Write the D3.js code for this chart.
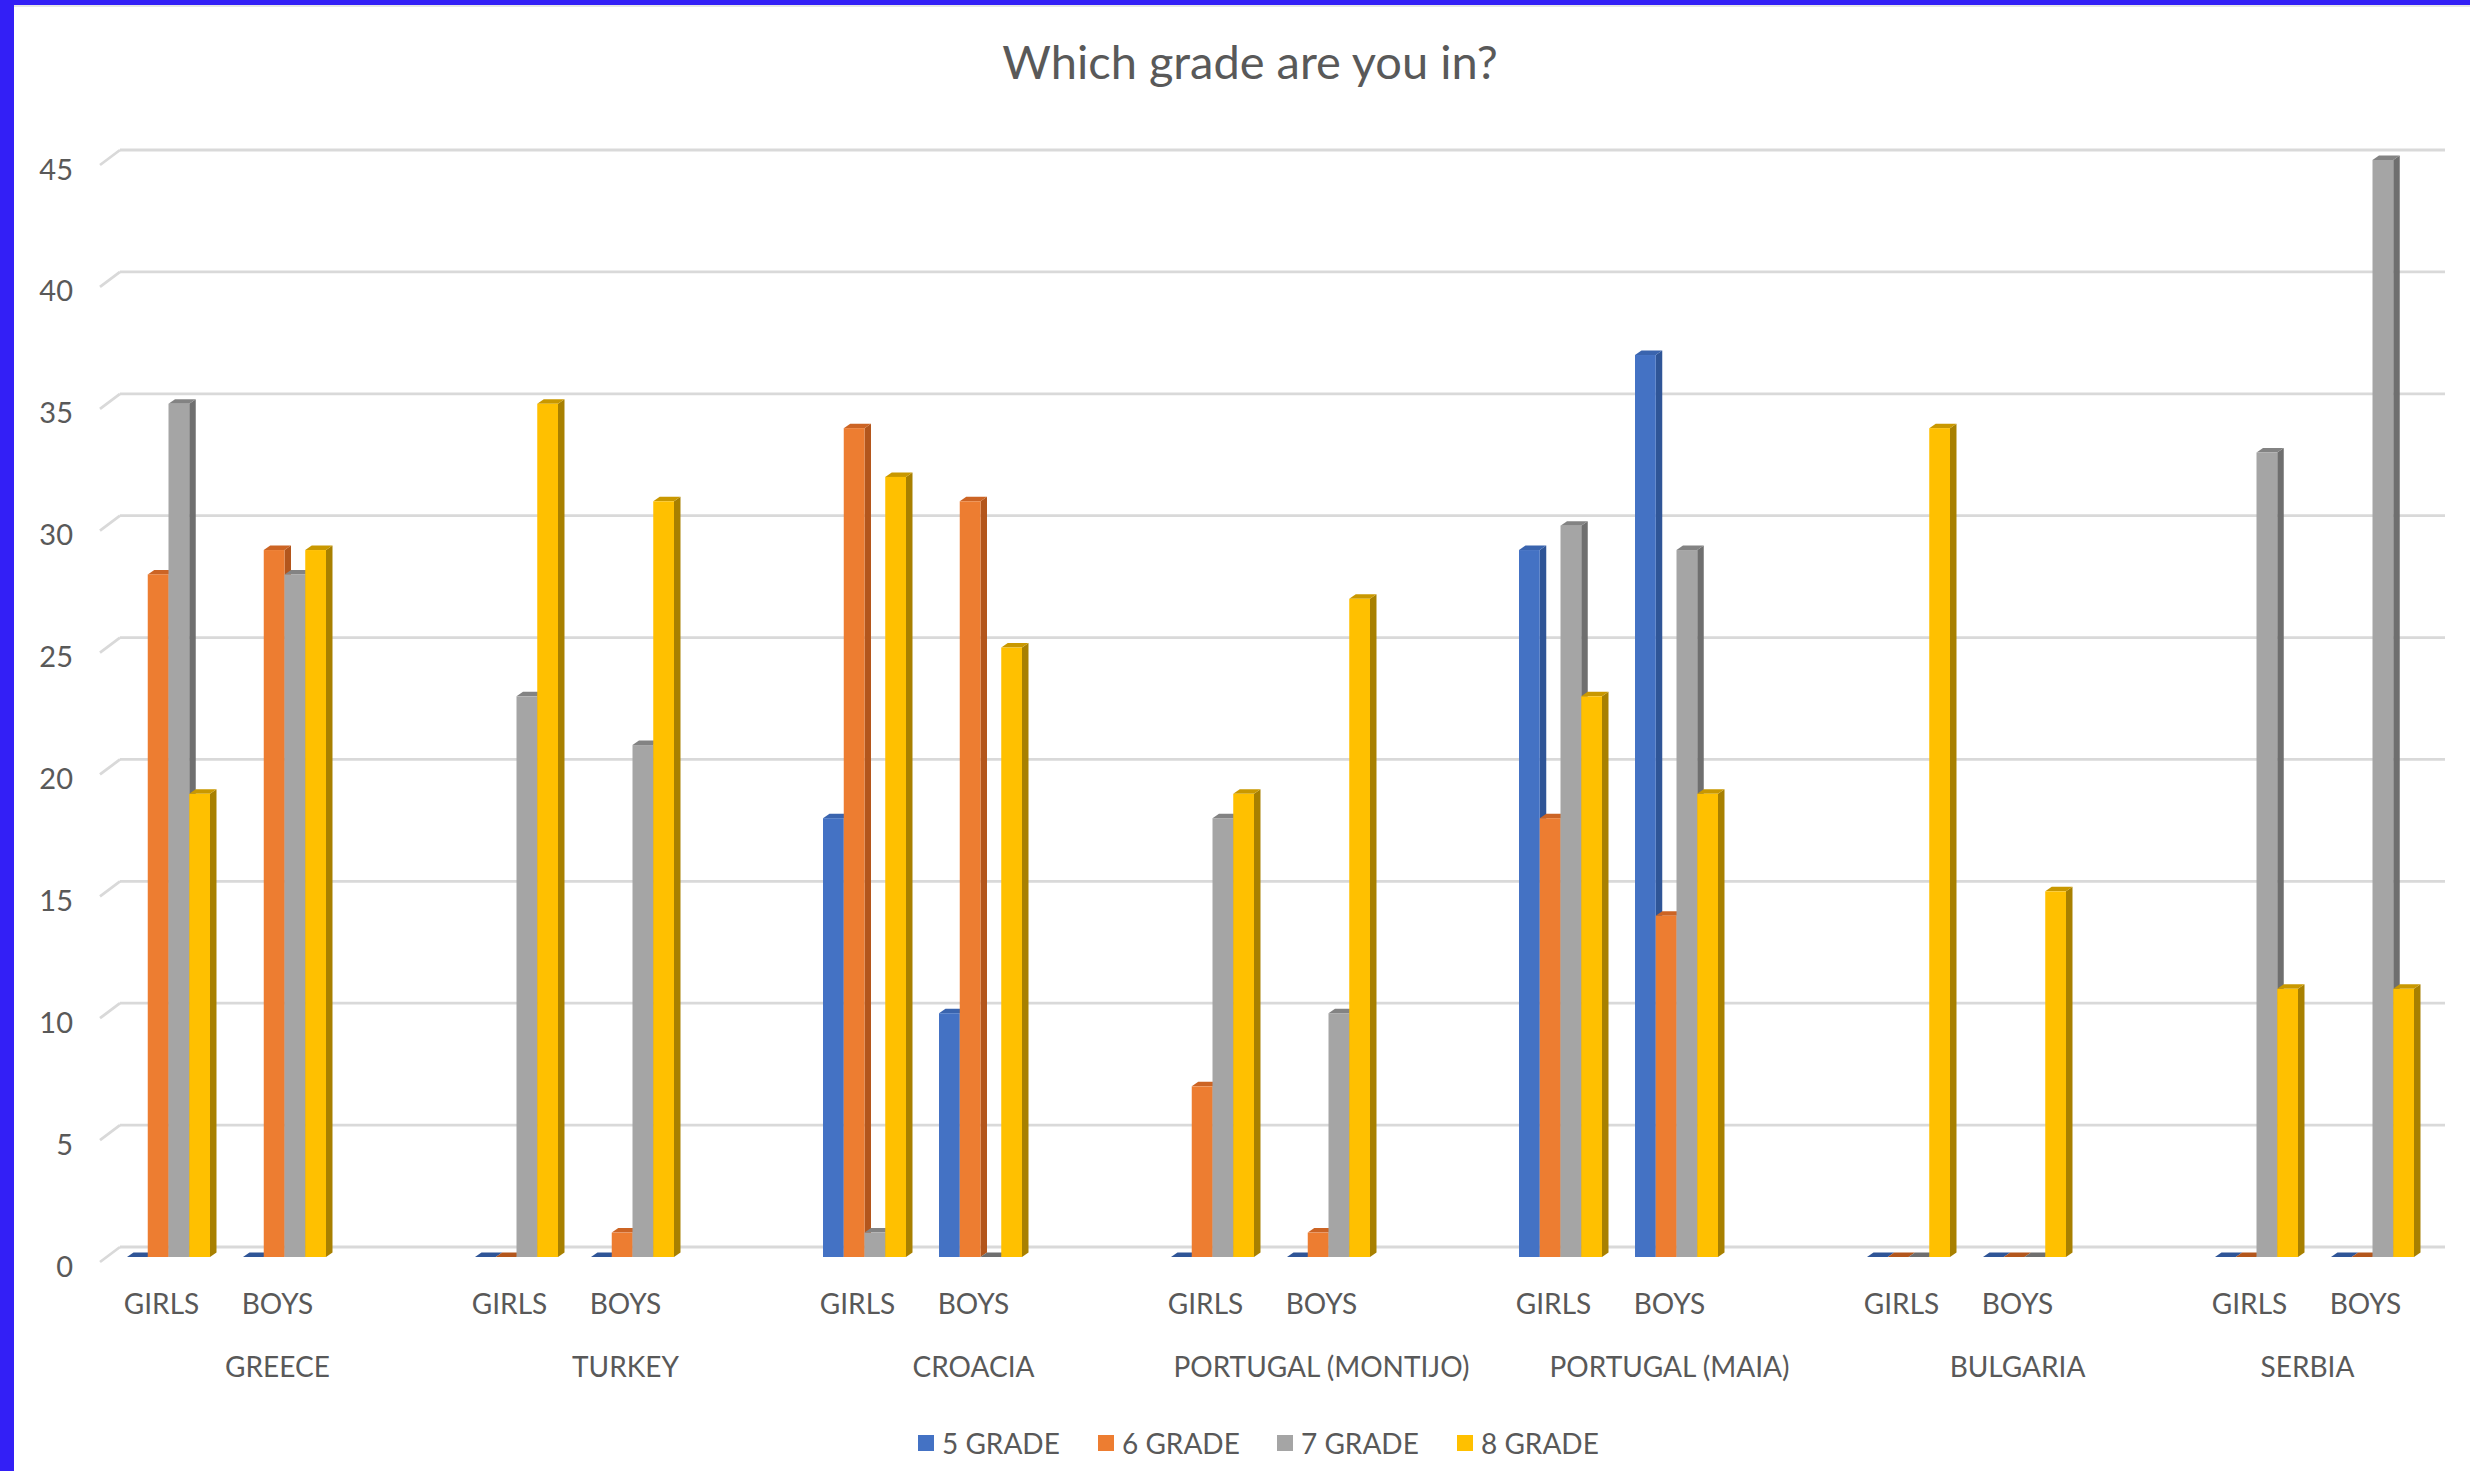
<!DOCTYPE html>
<html><head><meta charset="utf-8">
<script src="https://cdn.jsdelivr.net/npm/d3@7"></script>
<style>html,body{margin:0;padding:0;background:#fff;overflow:hidden}</style>
</head><body>
<svg id="c" width="2470" height="1471"></svg>
<script>
const countries = ["GREECE","TURKEY","CROACIA","PORTUGAL (MONTIJO)","PORTUGAL (MAIA)","BULGARIA","SERBIA"];
const genders = ["GIRLS","BOYS"];
const seriesNames = ["5 GRADE","6 GRADE","7 GRADE","8 GRADE"];
// values per country: girls, boys
const grade5 = [0,0, 0,0, 18,10, 0,0, 29,37, 0,0, 0,0];
const grade6 = [28,29, 0,1, 34,31, 7,1, 18,14, 0,0, 0,0];
const grade7 = [35,28, 23,21, 1,0, 18,10, 30,29, 0,0, 33,45];
const grade8 = [19,29, 35,31, 32,25, 19,27, 23,19, 34,15, 11,11];
const yTicks = [0,5,10,15,20,25,30,35,40,45];
const title = "Which grade are you in?";
const frontColors = ["#4472c4","#ed7d31","#a5a5a5","#ffc000"];
const sideColors  = ["#2f5597","#b3561c","#6f6f6f","#a88000"];
const topColors   = ["#3a64ae","#cc6424","#838383","#c99800"];

const seriesValues = [grade5, grade6, grade7, grade8];

const svg = d3.select("#c");
const font = "Lato, 'Open Sans', sans-serif";
const txt = "#595959";

// border
svg.append("rect").attr("x",0).attr("y",0).attr("width",2470).attr("height",1471).attr("fill","#fff");
svg.append("line").attr("x1",14).attr("x2",2470).attr("y1",6).attr("y2",6).attr("stroke","#dedede").attr("stroke-width",1.5);
svg.append("rect").attr("x",0).attr("y",0).attr("width",2470).attr("height",5).attr("fill","#331ff6");
svg.append("rect").attr("x",0).attr("y",0).attr("width",14).attr("height",1471).attr("fill","#331ff6");

// categories (with blank spacer between countries)
const keys = [];
const catInfo = [];
countries.forEach((c, ci) => {
  genders.forEach((g, gi) => {
    const k = c + "|" + g;
    keys.push(k);
    catInfo.push({key:k, country:c, gender:g, idx: ci*2+gi});
  });
  if (ci < countries.length - 1) keys.push(c + "|blank");
});

const x = d3.scaleBand().domain(keys).range([110.5, 2430.5]).paddingInner(0.2845).paddingOuter(0.14225);
const xs = d3.scaleBand().domain(seriesNames).range([0, x.bandwidth()]);
const y = d3.scaleLinear().domain([0,45]).range([1247,150]);

const FY = 10, DX = 6.5, DY = -4.5;

// gridlines (back wall) with left diagonal stub
const grid = svg.append("g");
yTicks.forEach(t => {
  const yy = y(t);
  grid.append("line").attr("x1",120).attr("x2",2445).attr("y1",yy).attr("y2",yy)
    .attr("stroke","#d9d9d9").attr("stroke-width",2.8);
  grid.append("line").attr("x1",100).attr("x2",120).attr("y1",yy+15).attr("y2",yy)
    .attr("stroke","#d9d9d9").attr("stroke-width",2.8);
  grid.append("text").attr("x",73).attr("y",yy+18).attr("text-anchor","end")
    .attr("dominant-baseline","central").attr("font-family",font).attr("font-size",29)
    .attr("fill",txt).text(t);
});

// bars
const bars = svg.append("g");
catInfo.forEach(ci => {
  seriesNames.forEach((s, si) => {
    const v = seriesValues[si][ci.idx];
    const x0 = x(ci.key) + xs(s);
    const w = xs.bandwidth();
    const yb = y(0) + FY;
    const yt = y(v) + FY;
    const g = bars.append("g");
    if (v > 0) {
      g.append("polygon").attr("points", [[x0+w,yt],[x0+w+DX,yt+DY],[x0+w+DX,yb+DY],[x0+w,yb]].join(" "))
        .attr("fill", sideColors[si]);
    }
    g.append("polygon").attr("points", [[x0,yt],[x0+w,yt],[x0+w+DX,yt+DY],[x0+DX,yt+DY]].join(" "))
      .attr("fill", v > 0 ? topColors[si] : sideColors[si]);
    if (v > 0) {
      g.append("rect").attr("x",x0).attr("y",yt).attr("width",w).attr("height",yb-yt)
        .attr("fill", frontColors[si]);
    }
  });
});

// category labels
catInfo.forEach(ci => {
  svg.append("text").attr("x", x(ci.key) + x.bandwidth()/2 - 7).attr("y",1303)
    .attr("text-anchor","middle").attr("dominant-baseline","central")
    .attr("font-family",font).attr("font-size",28).attr("fill",txt).text(ci.gender);
});
countries.forEach((c, i) => {
  const span = keys.filter(k => k.startsWith(c + "|"));
  const cx = d3.mean(span, k => x(k) + x.bandwidth()/2) - 7;
  svg.append("text").attr("x", cx).attr("y",1366)
    .attr("text-anchor","middle").attr("dominant-baseline","central")
    .attr("font-family",font).attr("font-size",28).attr("fill",txt).text(c);
});

// title
svg.append("text").attr("x",1250).attr("y",61).attr("text-anchor","middle")
  .attr("dominant-baseline","central").attr("font-family",font).attr("font-size",47)
  .attr("fill",txt).text(title);

// legend
const legX = [918, 1098, 1277, 1457];
seriesNames.forEach((s, i) => {
  svg.append("rect").attr("x",legX[i]).attr("y",1435).attr("width",16).attr("height",16)
    .attr("fill",frontColors[i]);
  svg.append("text").attr("x",legX[i]+24).attr("y",1443).attr("dominant-baseline","central")
    .attr("font-family",font).attr("font-size",28).attr("fill",txt).text(s);
});
</script>
</body></html>
